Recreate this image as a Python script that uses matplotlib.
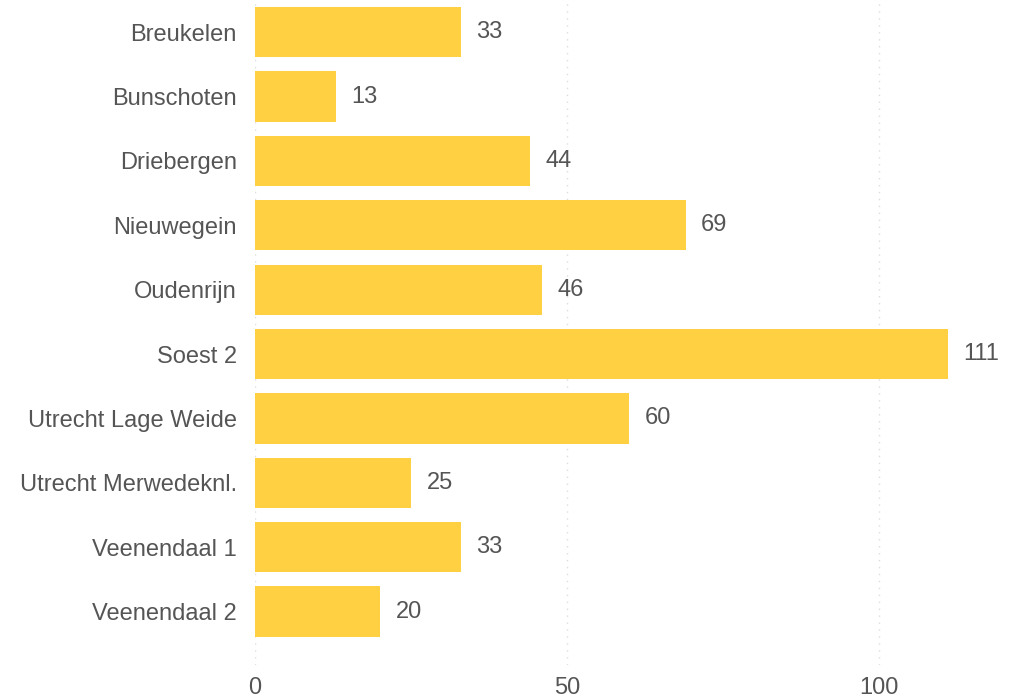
import matplotlib
matplotlib.use("Agg")
import matplotlib.pyplot as plt

categories = ["Breukelen", "Bunschoten", "Driebergen", "Nieuwegein", "Oudenrijn",
              "Soest 2", "Utrecht Lage Weide", "Utrecht Merwedeknl.", "Veenendaal 1", "Veenendaal 2"]
values = [33, 13, 44, 69, 46, 111, 60, 25, 33, 20]
xticks = [0, 50, 100]

plt.rcParams['font.family'] = ['Liberation Sans', 'DejaVu Sans']
W, H = 1015, 698
fig = plt.figure(figsize=(W/100, H/100), dpi=100)
ax = fig.add_axes([255/W, 33/H, 1 - 255/W, 1 - 33/H])

FS = 17
ypos = list(range(len(categories)))
ax.barh(ypos, values, height=0.78, color="#FFD042", zorder=2)
for y, v in zip(ypos, values):
    ax.text(v + 2.5, y, str(v), va="center", ha="left", fontsize=FS, color="#555555")

ax.set_ylim(9.83, -0.5)
ax.set_xlim(0, 121.8)
ax.set_yticks(ypos)
ax.set_yticklabels(categories, fontsize=FS, color="#555555")
ax.set_xticks(xticks)
ax.set_xticklabels([str(t) for t in xticks], fontsize=FS, color="#555555")
ax.tick_params(axis="both", length=0)
ax.tick_params(axis="y", pad=13)
ax.tick_params(axis="x", pad=9)
for s in ax.spines.values():
    s.set_visible(False)
ax.grid(axis="x", color="#dddddd", linestyle=(0, (1, 4)), linewidth=1, zorder=0)
ax.grid(axis="y", visible=False)

fig.savefig("out.png", dpi=100, facecolor="white")
